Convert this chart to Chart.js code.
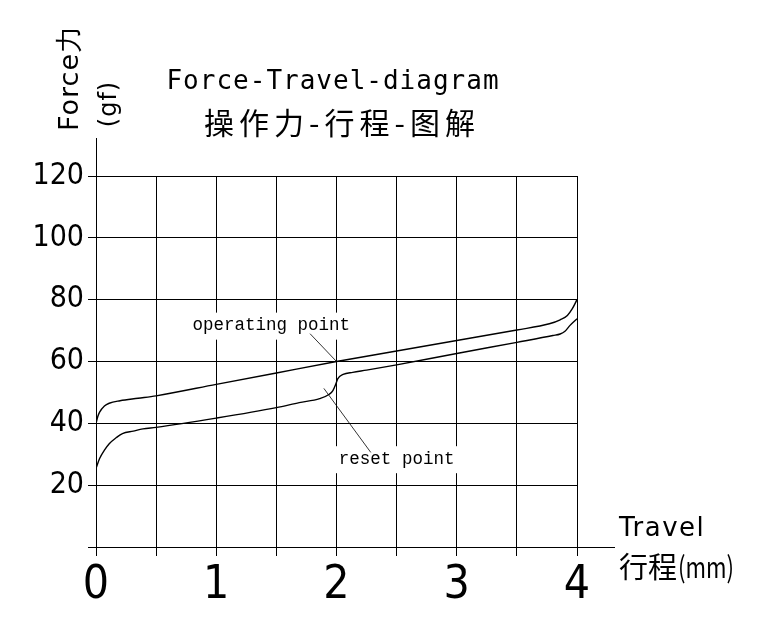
<!DOCTYPE html>
<html>
<head>
<meta charset="utf-8">
<script src="https://cdn.jsdelivr.net/npm/chart.js@4.4.1/dist/chart.umd.min.js"></script>
<style>
  html, body { margin: 0; padding: 0; background: #fff; }
  #wrap { width: 772px; height: 618px; }
</style>
</head>
<body>
<div id="wrap"><canvas id="myChart" width="772" height="618"></canvas></div>
<script>
// press stroke (operating curve), travel in mm, force in gf
const pressTravel = [0, 0.015, 0.03, 0.07, 0.11, 0.2, 0.35, 0.5, 1, 1.5, 2, 2.5, 3, 3.5, 3.77, 3.86, 3.92, 3.96, 4];
const pressForce  = [40, 42.2, 43.6, 45.6, 46.5, 47.3, 48.1, 48.9, 52.6, 56.3, 60, 63.4, 66.8, 70.2, 72.2, 73.5, 74.9, 77, 80];

// return stroke (reset curve)
const returnTravel = [0, 0.03, 0.07, 0.11, 0.17, 0.22, 0.31, 0.39, 0.5, 1, 1.5, 1.69, 1.86, 1.94, 1.97, 1.995, 2.01, 2.055, 2.135, 2.25, 2.5, 3, 3.5, 3.8, 3.86, 3.9, 3.94, 4];
const returnForce  = [25.4, 28.6, 31.3, 33.4, 35.4, 36.7, 37.5, 38.2, 38.7, 41.7, 45.1, 46.7, 48, 49.4, 50.6, 52.8, 54.4, 55.8, 56.5, 57.2, 58.9, 62.6, 66.2, 68.4, 68.9, 69.8, 71.6, 73.8];

const xTicks = [0, 1, 2, 3, 4];
const yTicks = [20, 40, 60, 80, 100, 120];

// callouts: label position, leader line start -> end (data units)
const operatingPoint = { text: 'operating point', at: [1.457, 71.6], from: [1.78, 69], to: [2, 60] };
const resetPoint     = { text: 'reset point', at: [2.5, 28.4], from: [1.895, 51.3], to: [2.285, 30.6] };

const toXY = (xs, ys) => xs.map((x, i) => ({ x: x, y: ys[i] }));

const narrow = "'Liberation Sans Narrow', 'DejaVu Sans Condensed', 'Liberation Sans', sans-serif";

const paper = {
    id: 'paper',
    beforeDraw(chart) {
        const c = chart.ctx;
        c.save();
        c.fillStyle = '#fff';
        c.fillRect(0, 0, chart.width, chart.height);
        c.restore();
    },
    afterDatasetsDraw(chart) {
        const c = chart.ctx;
        const xs = chart.scales.x, ys = chart.scales.y;
        c.save();
        c.font = "17.5px 'Liberation Mono', monospace";
        c.textAlign = 'center';
        c.textBaseline = 'middle';
        [operatingPoint, resetPoint].forEach(p => {
            const px = xs.getPixelForValue(p.at[0]);
            const py = ys.getPixelForValue(p.at[1]);
            const w = c.measureText(p.text).width + 8;
            c.fillStyle = '#fff';
            c.fillRect(px - w / 2, py - 13, w, 27);
            c.fillStyle = '#000';
            c.fillText(p.text, px, py);
            c.strokeStyle = '#000';
            c.lineWidth = 0.8;
            c.beginPath();
            c.moveTo(xs.getPixelForValue(p.from[0]), ys.getPixelForValue(p.from[1]));
            c.lineTo(xs.getPixelForValue(p.to[0]), ys.getPixelForValue(p.to[1]));
            c.stroke();
        });
        c.restore();
    },
    afterDraw(chart) {
        const c = chart.ctx;
        const a = chart.chartArea;
        c.save();
        c.strokeStyle = '#000';
        c.lineWidth = 1;
        // axis overhangs
        c.beginPath();
        c.moveTo(a.right, a.bottom + 0.5);
        c.lineTo(a.right + 38, a.bottom + 0.5);
        c.moveTo(a.left + 0.5, a.top);
        c.lineTo(a.left + 0.5, a.top - 38);
        c.stroke();

        c.fillStyle = '#000';
        c.textAlign = 'center';
        c.textBaseline = 'alphabetic';
        c.font = "26px 'DejaVu Sans Mono', monospace";
        c.letterSpacing = '1px';
        c.fillText('Force-Travel-diagram', 333, 89);
        c.letterSpacing = '5px';
        c.font = "30px 'Noto Sans CJK SC', sans-serif";
        c.fillText('操作力-行程-图解', 342, 134);

        // y axis title, rotated
        c.save();
        c.translate(71, 78);
        c.rotate(-Math.PI / 2);
        c.textBaseline = 'middle';
        c.letterSpacing = '1px';
        c.font = "27px 'DejaVu Sans', sans-serif";
        c.fillText('Force力', 0, 0);
        c.restore();
        c.save();
        c.translate(110, 104);
        c.rotate(-Math.PI / 2);
        c.textBaseline = 'middle';
        c.letterSpacing = '1px';
        c.font = "24px 'DejaVu Sans', sans-serif";
        c.fillText('(gf)', 0, 0);
        c.restore();

        // x axis title
        c.textAlign = 'left';
        c.letterSpacing = '1.5px';
        c.font = "26px 'DejaVu Sans', sans-serif";
        c.fillText('Travel', 619, 536);
        c.letterSpacing = '0px';
        c.font = "29px 'Noto Sans CJK SC', sans-serif";
        c.fillText('行程', 619, 578);
        const w0 = c.measureText('行程').width;
        const wm = c.measureText('(mm)').width;
        c.save();
        c.translate(619 + w0 + 1, 578);
        c.scale(56 / wm, 1);
        c.fillText('(mm)', 0, 0);
        c.restore();
        c.restore();
    }
};

const ctx = document.getElementById('myChart').getContext('2d');

const forceChart = new Chart(ctx, {
    type: 'line',
    data: {
        datasets: [{
            label: 'press',
            data: toXY(pressTravel, pressForce),
            borderColor: '#000',
            borderWidth: 1.4,
            pointRadius: 0,
            cubicInterpolationMode: 'monotone',
            fill: false
        }, {
            label: 'return',
            data: toXY(returnTravel, returnForce),
            borderColor: '#000',
            borderWidth: 1.4,
            pointRadius: 0,
            cubicInterpolationMode: 'monotone',
            fill: false
        }]
    },
    options: {
        responsive: false,
        animation: false,
        events: [],
        layout: {
            padding: { left: 0, top: 176, right: 195, bottom: 0 }
        },
        plugins: {
            legend: { display: false },
            tooltip: { enabled: false }
        },
        scales: {
            x: {
                type: 'linear',
                min: 0,
                max: 4,
                afterFit: s => { s.height = 71; },
                border: { display: true, color: '#000', width: 1 },
                grid: { color: '#000', lineWidth: 1, tickLength: 9, tickColor: '#000' },
                ticks: {
                    stepSize: 0.5,
                    autoSkip: false,
                    maxRotation: 0,
                    padding: 2,
                    color: '#000',
                    font: { family: narrow, size: 46 },
                    callback: v => xTicks.includes(v) ? String(v) : ''
                }
            },
            y: {
                type: 'linear',
                min: 0,
                max: 120,
                afterFit: s => { s.width = 96; },
                border: { display: true, color: '#000', width: 1 },
                grid: { color: '#000', lineWidth: 1, tickLength: 8, tickColor: '#000' },
                ticks: {
                    stepSize: 20,
                    padding: 4,
                    color: '#000',
                    font: { family: narrow, size: 30 },
                    callback: v => yTicks.includes(v) ? String(v) : ''
                }
            }
        }
    },
    plugins: [paper]
});
</script>
</body>
</html>
